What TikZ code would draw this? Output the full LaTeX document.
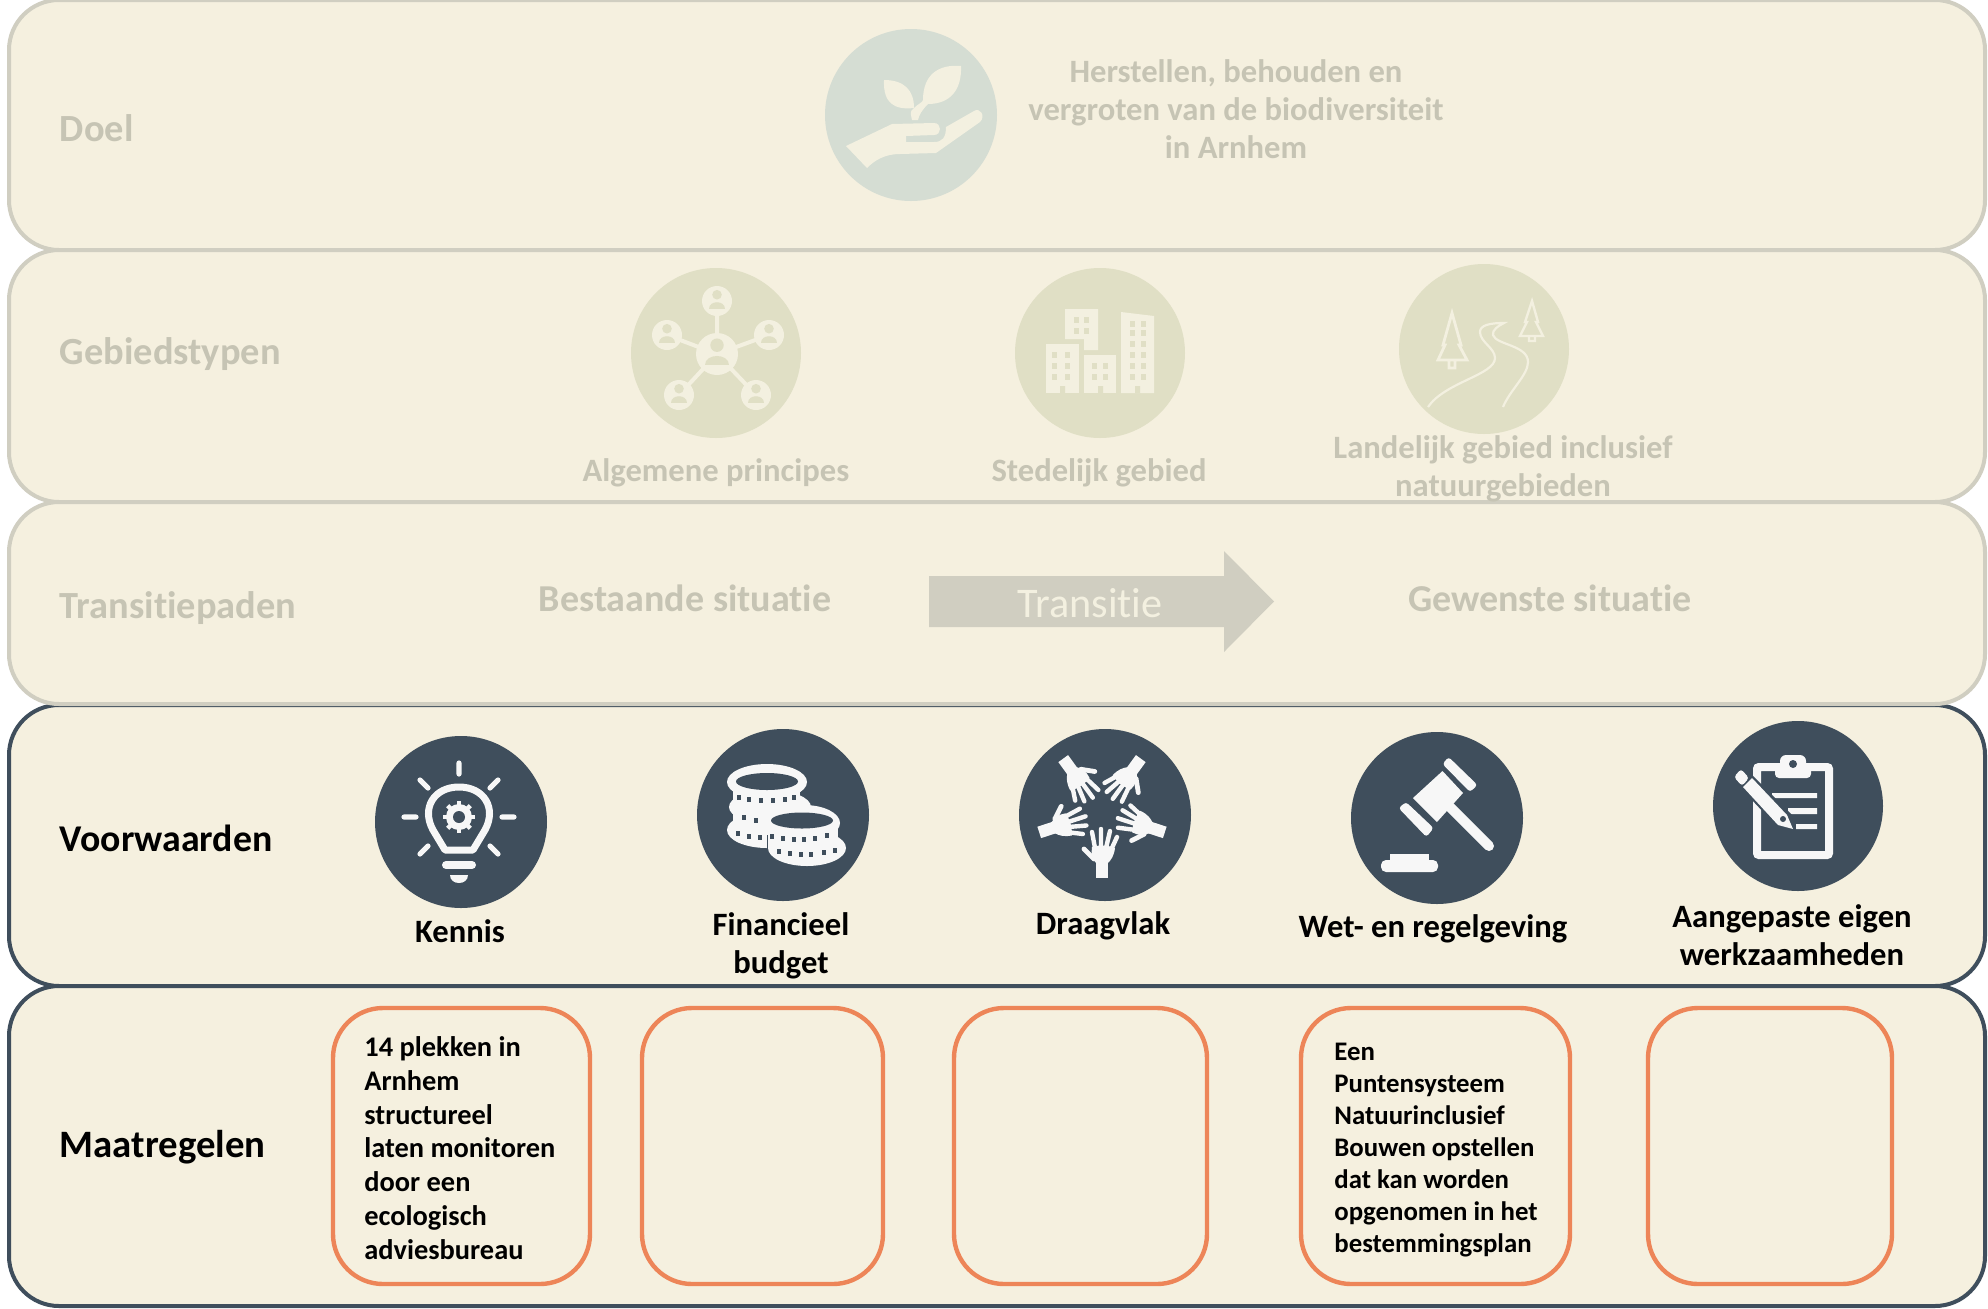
\documentclass[tikz,border=0pt]{standalone}
\usepackage{fontspec}
\setmainfont[Ligatures=NoCommon]{Carlito}
\definecolor{bgc}{HTML}{F5F0DF}
\definecolor{fadeline}{HTML}{D0CEC1}
\definecolor{fadetext}{HTML}{C6C4B4}
\definecolor{dark}{HTML}{3F4E5C}
\definecolor{orangeb}{HTML}{ED8558}
\definecolor{doelc}{HTML}{D5DDD3}
\definecolor{gebc}{HTML}{E0DFC5}
\definecolor{icw}{HTML}{F7F7F7}
\definecolor{icf}{HTML}{F3F0E0}
\tikzset{
  panel/.style={draw=#1,fill=bgc,line width=2pt,rounded corners=25pt,inner sep=0pt,outer sep=0pt},
  obox/.style={draw=orangeb,line width=2.2pt,rounded corners=25pt,inner sep=0pt,outer sep=0pt},
  disc/.style={circle,fill=#1,inner sep=0pt,outer sep=0pt},
  rowlabel/.style={anchor=west,inner sep=0pt,font=\fontsize{#1}{22}\selectfont\bfseries},
  fadelabel/.style={inner sep=0pt,align=center,text=fadetext,font=\fontsize{#1}{19}\selectfont\bfseries},
  item/.style={inner sep=0pt,align=center,text=black,font=\fontsize{16.3}{19}\selectfont\bfseries},
  boxtext/.style 2 args={inner sep=0pt,anchor=west,align=left,text=black,font=\fontsize{#1}{#2}\selectfont\bfseries}
}
\newcommand{\ppl}[3]{%
  \fill[icf] (#1,#2) circle[radius=#3];
  \fill[gebc] (#1,#2-0.42*#3) circle[radius=0.32*#3];
  \fill[gebc] (#1-0.55*#3,#2+0.5*#3) .. controls (#1-0.55*#3,#2-0.05*#3) and (#1+0.55*#3,#2-0.05*#3) .. (#1+0.55*#3,#2+0.5*#3) -- cycle;
}
\begin{document}
\begin{tikzpicture}[x=0.5pt,y=-0.5pt]
\useasboundingbox (0,0) rectangle (1988,1308);
\fill[white] (0,0) rectangle (1988,1308);
% dark panels
\node[panel=dark,minimum width=988pt,minimum height=140.5pt] (pv) at (997,845.5) {};
\node[panel=dark,minimum width=988pt,minimum height=160pt] (pm) at (997,1146) {};
% faded panels
\node[panel=fadeline,minimum width=988pt,minimum height=125pt] (pd) at (997,125) {};
\node[panel=fadeline,minimum width=988pt,minimum height=126pt] (pg) at (997,376) {};
\node[panel=fadeline,minimum width=988pt,minimum height=101pt] (pt) at (997,603) {};
% row labels
\node[rowlabel=19.2,text=fadetext] (ld) at (59.5,128) {Doel};
\node[rowlabel=19.2,text=fadetext] (lg) at (59.5,354) {Gebiedstypen};
\node[rowlabel=19.2,text=fadetext] (lt) at (59.5,608) {Transitiepaden};
\node[rowlabel=18.9] (lv) at (59.5,838) {Voorwaarden};
\node[rowlabel=19.4] (lm) at (59.5,1147) {Maatregelen};
% doel
\node[disc=doelc,minimum size=86pt] (cd) at (911,115) {};
\fill[icf] (846,146) -- (892,124) -- (934,123) .. controls (942,123) and (942,135) .. (934,135) -- (906,136) -- (906,142) -- (934,142) .. controls (942,142) and (946,138) .. (946,127) -- (974,111) .. controls (980,107) and (986,116) .. (980,122) -- (936,153) -- (900,154) .. controls (885,154) and (875,160) .. (867,168) -- cycle;
\fill[icf] (884,80) .. controls (904,80) and (914,90) .. (914,108) .. controls (895,110) and (883,104) .. (884,80);
\fill[icf] (961,66) .. controls (962,90) and (950,104) .. (928,104) .. controls (922,110) and (919,115) .. (918,120) -- (912,120) .. controls (911,114) and (909,112) .. (914,108) .. controls (918,104) and (923,102) .. (923,100) .. controls (923,75) and (938,64) .. (961,66);
\node[fadelabel=16.3] (td) at (1236,109) {Herstellen, behouden en\\vergroten van de biodiversiteit\\in Arnhem};
% gebiedstypen
\node[disc=gebc,minimum size=85pt] (cg1) at (716,353) {};
\node[disc=gebc,minimum size=85pt] (cg2) at (1100,353) {};
\node[disc=gebc,minimum size=85pt] (cg3) at (1484,349) {};
% network
\draw[icf,line width=2pt] (717,301) -- (717,354) (667,335) -- (717,354) -- (769,335) (679,395) -- (717,354) -- (756,395);
\ppl{717}{354}{21}
\ppl{717}{301}{15}
\ppl{667}{335}{15}
\ppl{769}{335}{15}
\ppl{679}{395}{15}
\ppl{756}{395}{15}
% buildings
\fill[icf] (1046,344) rectangle (1079,393);
\fill[icf] (1084,355) rectangle (1116,393);
\fill[icf] (1121,312) -- (1154,316) -- (1154,393) -- (1121,393) -- cycle;
\fill[icf] (1065,309) -- (1098,309) -- (1098,350) -- (1084,350) -- (1084,339) -- (1065,339) -- cycle;
\foreach \xa in {1054.5,1067} \foreach \ya in {355,366,377} \fill[gebc] (\xa-2.5,\ya-3) rectangle (\xa+2.5,\ya+3);
\foreach \xa in {1094.5,1105.5} \foreach \ya in {366,377} \fill[gebc] (\xa-2.5,\ya-3) rectangle (\xa+2.5,\ya+3);
\foreach \xa in {1132,1143} \foreach \ya in {324,333,344,355,366,377} \fill[gebc] (\xa-2.5,\ya-3) rectangle (\xa+2.5,\ya+3);
\foreach \xa in {1076,1086.5} \foreach \ya in {320,331} \fill[gebc] (\xa-2.5,\ya-3) rectangle (\xa+2.5,\ya+3);
\fill[gebc] (1060,386) rectangle (1065,393) (1098,386) rectangle (1103,393) (1135,386) rectangle (1140,393);
% trees and road
\draw[icf,line width=1.4pt,line join=miter] (1452,313) -- (1461,345) -- (1459,345) -- (1467,360) -- (1438,360) -- (1445,345) -- (1443,345) -- cycle (1449,360) -- (1449,368) -- (1455,368) -- (1455,360);
\draw[icf,line width=1.2pt,line join=miter] (1532,301) -- (1538,322) -- (1536,322) -- (1543,336) -- (1520,336) -- (1527,322) -- (1525,322) -- cycle (1529,336) -- (1529,341) -- (1535,341) -- (1535,336);
\draw[icf,line width=1.1pt] (1428,407) .. controls (1445,382) and (1495,375) .. (1495,358) .. controls (1495,348) and (1480,342) .. (1480,332) .. controls (1480,325) and (1490,323) .. (1504,323) .. controls (1498,326) and (1492,330) .. (1493,335) .. controls (1496,345) and (1528,345) .. (1528,362) .. controls (1528,375) and (1510,390) .. (1503,407);
% text gebied
\node[fadelabel=16.3] (tg1) at (716,473) {Algemene principes};
\node[fadelabel=16.3] (tg2) at (1099,473) {Stedelijk gebied};
\node[fadelabel=16.3] (tg3) at (1503,469) {Landelijk gebied inclusief\\natuurgebieden};
% transitie
\node[fadelabel=19] (ta) at (685,598) {Bestaande situatie};
\node[fadelabel=19] (tb) at (1550,598) {Gewenste situatie};
\fill[fadeline] (929,576) -- (1224,576) -- (1224,551) -- (1274,601.5) -- (1224,652) -- (1224,627) -- (929,627) -- cycle;
\node[inner sep=0pt,text=icf,font=\fontsize{21.1}{24}\selectfont] (tarr) at (1090,603) {Transitie};
% voorwaarden discs
\node[disc=dark,minimum size=86pt] (c1) at (461,822) {};
\node[disc=dark,minimum size=86pt] (c2) at (783,815) {};
\node[disc=dark,minimum size=86pt] (c3) at (1105,815) {};
\node[disc=dark,minimum size=86pt] (c4) at (1437,818) {};
\node[disc=dark,minimum size=85pt] (c5) at (1798,806) {};
% bulb
\draw[icw,line width=3.5pt,line join=round] (445,850) -- (433,830) .. controls (421,808) and (434,787) .. (459,787) .. controls (484,787) and (497,808) .. (485,830) -- (473,850) -- cycle;
\draw[icw,line width=2.6pt,line cap=round] (459,763) -- (459,774) (404,817) -- (416,817) (502,817) -- (514,817) (420,780) -- (428,788) (498,780) -- (490,788) (420,854) -- (428,846) (498,854) -- (490,846);
\fill[icw] (459,817) circle[radius=13];
\foreach \a in {0,45,...,315} \draw[icw,line width=2.2pt] ([shift={(\a:9)}]459,817) -- ([shift={(\a:16)}]459,817);
\fill[dark] (459,817) circle[radius=6];
\draw[icw,line width=4pt,line cap=round] (446,865) -- (472,865);
\fill[icw] (450,875) -- (468,875) .. controls (468,880) and (464,883) .. (459,883) .. controls (454,883) and (450,880) .. (450,875);
% coins
\fill[icw] (767,782) ellipse[x radius=40,y radius=18];
\fill[icw] (770,807) ellipse[x radius=41,y radius=17];
\fill[icw] (767,830) ellipse[x radius=40,y radius=18];
\fill[icw] (733,782) rectangle (800,830);
\fill[dark] (767,781.5) ellipse[x radius=31,y radius=8.5];
\fill[icw] (804,823) ellipse[x radius=36,y radius=18];
\fill[icw] (807,848) ellipse[x radius=39,y radius=18];
\fill[icw] (773,823) rectangle (838,850);
\fill[dark] (802,820.5) ellipse[x radius=31,y radius=8];
\draw[dark,line width=.6pt] (767.5,835) -- (767.5,850);
\foreach \xa/\ya in {739/797,749/799,761/800,773/800,785/799,794/797,743.5/817,756/820,738/833,749/836,760/837,772/836,783/838,794/839,804/839,815/838,827/835,779/851,790/853,801/854,811/854,824/852,835/850}
  \fill[dark] (\xa-2,\ya-2.5) rectangle (\xa+2,\ya+2.5);
% hands
\foreach \a in {0,72,144,216,288}{
\begin{scope}[shift={(1102,812)},rotate=\a,yshift=-2pt]
\fill[icw] (-6,44) rectangle (6,62);
\fill[icw] (-10,31) .. controls (0,28) and (8,30) .. (13,32) .. controls (12,40) and (9,44) .. (6,47) -- (-6,47) .. controls (-10,42) and (-11,38) .. (-10,31);
\draw[icw,line width=2.2pt,line cap=round] (-7,32) -- (-10,16) (-1,32) -- (-1,13) (4,32) -- (8,15) (9,34) -- (15,21);
\draw[icw,line width=2.4pt,line cap=round] (-8,43) -- (-18,33);
\end{scope}}
% gavel
\fill[icw] (1413,798) -- (1442.5,771) -- (1463,793) -- (1437,822) -- cycle;
\fill[icw,rounded corners=1.5pt] (1448.6,757) -- (1477.5,785) -- (1470,792) -- (1442.5,764) -- cycle;
\fill[icw,rounded corners=1.5pt] (1406,802) -- (1433.6,828) -- (1426.4,837) -- (1398.6,808) -- cycle;
\draw[icw,line width=5pt,line cap=round] (1450,807) -- (1489,846);
\fill[icw,rounded corners=2.5pt] (1381,860) rectangle (1438,872);
\fill[icw] (1390,854) rectangle (1429,861);
% clipboard
\draw[icw,line width=4pt,rounded corners=1pt] (1757,767) rectangle (1829,855);
\fill[icw,rounded corners=2pt] (1775,763) rectangle (1811,778);
\fill[icw,rounded corners=3pt] (1780,755) rectangle (1806,770);
\fill[dark] (1793,764) circle[radius=4];
\fill[icw] (1772,793) rectangle (1817,798) (1788,808) rectangle (1817,814) (1796,824) rectangle (1817,829);
\fill[dark] (1738,785) -- (1750,773) -- (1792,815) -- (1797,833) -- (1779,829) -- cycle;
\fill[icw] (1743,787) -- (1752,778) -- (1787,815) -- (1793,829) -- (1778,825) -- cycle;
\fill[icw,rounded corners=1.5pt] (1734,777) -- (1741,769) -- (1749,778) -- (1742,786) -- cycle;
\fill[dark] (1783,819) circle[radius=3];
% voorwaarden text
\node[item] (t1) at (460,931) {Kennis};
\node[item] (t2) at (781,946) {Financieel\\budget};
\node[item] (t3) at (1103,926) {Draagvlak};
\node[item] (t4) at (1433,929) {Wet- en regelgeving};
\node[item] (t5) at (1792,935) {Aangepaste eigen\\werkzaamheden};
% maatregelen
\node[obox,minimum width=128.5pt,minimum height=138pt] (b1) at (461.5,1146) {};
\node[obox,minimum width=120.5pt,minimum height=138pt] (b2) at (762.5,1146) {};
\node[obox,minimum width=126.5pt,minimum height=138pt] (b3) at (1080.5,1146) {};
\node[obox,minimum width=134.5pt,minimum height=138pt] (b4) at (1435.5,1146) {};
\node[obox,minimum width=122pt,minimum height=138pt] (b5) at (1770,1146) {};
\node[boxtext={14.2}{16.9}] (tb1) at (364,1148) {14 plekken in\\Arnhem\\structureel\\laten monitoren\\door een\\ecologisch\\adviesbureau};
\node[boxtext={13.4}{16}] (tb4) at (1334,1150) {Een\\Puntensysteem\\Natuurinclusief\\Bouwen opstellen\\dat kan worden\\opgenomen in het\\bestemmingsplan};
\end{tikzpicture}
\end{document}
